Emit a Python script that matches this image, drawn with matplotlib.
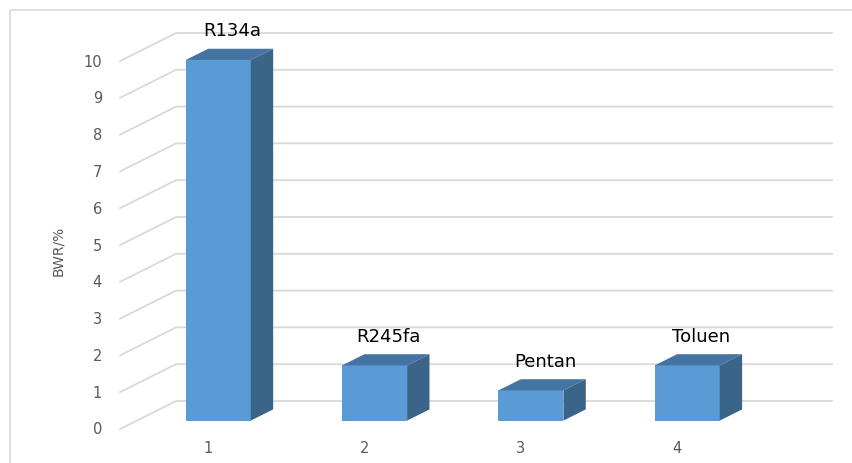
import matplotlib
matplotlib.use("Agg")
import matplotlib.pyplot as plt
from matplotlib.patches import Polygon

# data
categories = ['1', '2', '3', '4']
fluids = ['R134a', 'R245fa', 'Pentan', 'Toluen']
bwr = [9.8, 1.5, 0.82, 1.5]
yticks = list(range(0, 11))

# 3D look: oblique offset for full depth (category units, value units)
DX, DY = 0.358, 0.761
bar_w = 0.416
d_front, d_back = 0.3, 0.7
wall_x = 0.479
grid_end = 4.676

front_col = '#5b9bd5'
top_col = '#4574a3'
side_col = '#3a6589'
grid_col = '#d9d9d9'
text_col = '#595959'


def proj(c, v, d):
    return c + d * DX, v + d * DY


fig = plt.figure(figsize=(8.53, 4.64), dpi=100)
ax = fig.add_axes([0, 0, 1, 1])
ax.set_xlim(-0.289, 5.168)
ax.set_ylim(-0.924, 11.685)
ax.axis('off')

# outer frame (only left and top edges are inside the picture)
fx, fy = 10 / 853, 1 - 11 / 464
fig.add_artist(plt.Line2D([fx, fx, 1.0], [0.0, fy, fy], transform=fig.transFigure,
                          color=grid_col, lw=1.2))

# gridlines: side wall diagonal + back wall horizontal
for v in yticks:
    x0, y0 = proj(wall_x, v, 0)
    x1, y1 = proj(wall_x, v, 1)
    x2, y2 = proj(grid_end, v, 1)
    ax.plot([x0, x1, x2], [y0, y1, y2], color=grid_col, lw=1.3, zorder=1,
            solid_joinstyle='miter')
    ax.annotate(str(v), (x0, y0), xytext=(-13, 0), textcoords='offset points',
                ha='right', va='center', fontsize=10.5, color=text_col)

# bars
for i, (cat, name, val) in enumerate(zip(categories, fluids, bwr)):
    c = i + 1
    l, r = c - bar_w / 2, c + bar_w / 2
    front = [proj(l, 0, d_front), proj(r, 0, d_front),
             proj(r, val, d_front), proj(l, val, d_front)]
    top = [proj(l, val, d_front), proj(r, val, d_front),
           proj(r, val, d_back), proj(l, val, d_back)]
    side = [proj(r, 0, d_front), proj(r, 0, d_back),
            proj(r, val, d_back), proj(r, val, d_front)]
    ax.add_patch(Polygon(front, closed=True, facecolor=front_col, edgecolor='none', zorder=3))
    ax.add_patch(Polygon(top, closed=True, facecolor=top_col, edgecolor='none', zorder=3))
    ax.add_patch(Polygon(side, closed=True, facecolor=side_col, edgecolor='none', zorder=3))

    lx, ly = proj(c, val, 0.55)
    ax.annotate(name, (lx, ly), xytext=(0, 10), textcoords='offset points',
                ha='center', va='bottom', fontsize=13, color='black')

    tx, ty = proj(c, 0, 0.12)
    ax.annotate(cat, (tx, ty), xytext=(0, -16), textcoords='offset points',
                ha='center', va='center', fontsize=10.5, color=text_col)

fig.text(58 / 853, 1 - 251 / 464, 'BWR/%', rotation=90, ha='center', va='center',
         fontsize=10, color=text_col)

fig.savefig('out.png', dpi=100)
